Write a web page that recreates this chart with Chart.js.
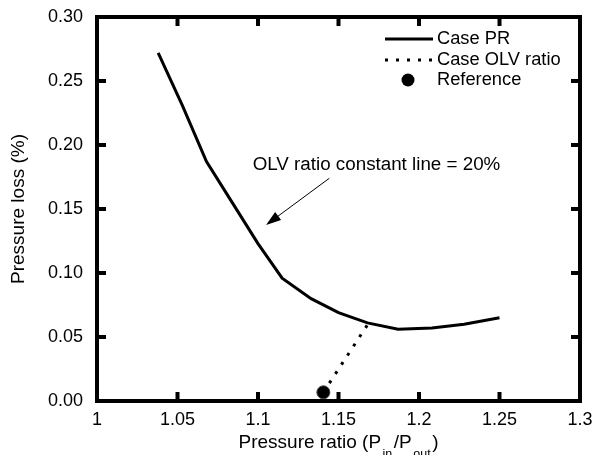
<!DOCTYPE html>
<html>
<head>
<meta charset="utf-8">
<script src="https://cdn.jsdelivr.net/npm/chart.js@4"></script>
<style>
  html, body { margin: 0; padding: 0; background: #fff; }
</style>
</head>
<body>
<canvas id="chart" width="594" height="455"></canvas>
<script>
const FONT = "'Liberation Sans', Arial, Helvetica, sans-serif";

// Case PR (solid line)
const prX = [1.038, 1.053, 1.068, 1.085, 1.1, 1.115, 1.133, 1.15, 1.168, 1.187, 1.208, 1.228, 1.25];
const prY = [0.272, 0.231, 0.187, 0.153, 0.123, 0.096, 0.080, 0.069, 0.061, 0.056, 0.057, 0.060, 0.065];
// Case OLV ratio (dotted line)
const olvX = [1.1406, 1.1685];
const olvY = [0.0068, 0.0605];
// Reference point
const refX = [1.1406];
const refY = [0.0068];

const xTicks = [1, 1.05, 1.1, 1.15, 1.2, 1.25, 1.3];
const yTicks = [0, 0.05, 0.1, 0.15, 0.2, 0.25, 0.3];

// annotation, in data units
const noteText = "OLV ratio constant line = 20%";
const noteAt = { x: 1.0967, y: 0.1844 };
const arrowFrom = { x: 1.1443, y: 0.174 };
const arrowTo = { x: 1.105, y: 0.1375 };

const pts = (xs, ys) => xs.map((x, i) => ({ x: x, y: ys[i] }));

const frame = {
  id: "frame",
  afterDatasetsDraw(chart) {
    const ctx = chart.ctx;
    const a = chart.chartArea;
    const xs = chart.scales.x, ys = chart.scales.y;
    ctx.save();
    ctx.strokeStyle = "#000";
    ctx.lineWidth = 4;
    ctx.strokeRect(a.left, a.top, a.right - a.left, a.bottom - a.top);
    // inward ticks on all four sides
    const len = 9;
    ctx.beginPath();
    for (const v of xTicks.slice(1, -1)) {
      const px = xs.getPixelForValue(v);
      ctx.moveTo(px, a.bottom); ctx.lineTo(px, a.bottom - len);
      ctx.moveTo(px, a.top); ctx.lineTo(px, a.top + len);
    }
    for (const v of yTicks.slice(1, -1)) {
      const py = ys.getPixelForValue(v);
      ctx.moveTo(a.left, py); ctx.lineTo(a.left + len, py);
      ctx.moveTo(a.right, py); ctx.lineTo(a.right - len, py);
    }
    ctx.stroke();

    // annotation + arrow
    ctx.fillStyle = "#000";
    ctx.font = "18.8px " + FONT;
    ctx.textBaseline = "middle";
    ctx.textAlign = "left";
    ctx.fillText(noteText, xs.getPixelForValue(noteAt.x), ys.getPixelForValue(noteAt.y));
    const x0 = xs.getPixelForValue(arrowFrom.x), y0 = ys.getPixelForValue(arrowFrom.y);
    const x1 = xs.getPixelForValue(arrowTo.x), y1 = ys.getPixelForValue(arrowTo.y);
    const ang = Math.atan2(y1 - y0, x1 - x0);
    const hl = 15, hw = 5;
    ctx.lineWidth = 1;
    ctx.beginPath();
    ctx.moveTo(x0, y0);
    ctx.lineTo(x1 - Math.cos(ang) * hl * 0.8, y1 - Math.sin(ang) * hl * 0.8);
    ctx.stroke();
    ctx.beginPath();
    ctx.moveTo(x1, y1);
    ctx.lineTo(x1 - Math.cos(ang) * hl - Math.sin(ang) * hw, y1 - Math.sin(ang) * hl + Math.cos(ang) * hw);
    ctx.lineTo(x1 - Math.cos(ang) * hl + Math.sin(ang) * hw, y1 - Math.sin(ang) * hl - Math.cos(ang) * hw);
    ctx.closePath();
    ctx.fill();

    // legend inside the plot, top right
    const ds = chart.data.datasets;
    const lx0 = a.right - 195, lx1 = a.right - 147, tx = a.right - 143;
    const rows = [a.top + 22, a.top + 43, a.top + 63];
    ctx.font = "18.3px " + FONT;
    ds.forEach((d, i) => {
      const y = rows[i];
      if (d.showLine) {
        ctx.lineWidth = 3;
        ctx.setLineDash(d.borderDash || []);
        ctx.beginPath();
        ctx.moveTo(lx0, y); ctx.lineTo(lx1, y);
        ctx.stroke();
        ctx.setLineDash([]);
      } else {
        ctx.beginPath();
        ctx.arc((lx0 + lx1) / 2 - 1, y, d.pointRadius, 0, Math.PI * 2);
        ctx.fill();
      }
      ctx.fillText(d.label, tx, y);
    });

    // x axis title with subscripts
    const cx = (a.left + a.right) / 2;
    const parts = [["Pressure ratio (P", 0], ["in", 1], ["/P", 0], ["out", 1], [")", 0]];
    const big = "19px " + FONT, small = "12.5px " + FONT;
    let w = 0;
    for (const [t, s] of parts) { ctx.font = s ? small : big; w += ctx.measureText(t).width + (s ? 3 : 0); }
    let x = cx - w / 2;
    ctx.textBaseline = "alphabetic";
    for (const [t, s] of parts) {
      ctx.font = s ? small : big;
      if (s) x += 1.5;
      ctx.fillText(t, x, s ? 458 : 448);
      x += ctx.measureText(t).width + (s ? 1.5 : 0);
    }
    ctx.restore();
  }
};

new Chart(document.getElementById("chart"), {
  type: "scatter",
  data: {
    datasets: [
      {
        label: "Case PR",
        data: pts(prX, prY),
        showLine: true,
        borderColor: "#000",
        borderWidth: 3,
        pointRadius: 0,
        tension: 0
      },
      {
        label: "Case OLV ratio",
        data: pts(olvX, olvY),
        showLine: true,
        borderColor: "#000",
        borderWidth: 3,
        borderDash: [3, 8],
        pointRadius: 0
      },
      {
        label: "Reference",
        data: pts(refX, refY),
        showLine: false,
        backgroundColor: "#000",
        borderColor: "#444",
        borderWidth: 1,
        pointRadius: 6.5
      }
    ]
  },
  options: {
    responsive: false,
    animation: false,
    layout: { padding: { top: 17, right: 14, left: 0, bottom: 0 } },
    font: { family: FONT },
    scales: {
      x: {
        type: "linear",
        min: 1,
        max: 1.3,
        afterBuildTicks: (s) => { s.ticks = xTicks.map((v) => ({ value: v })); },
        afterFit: (s) => { s.height = 54; s.paddingLeft = 0; s.paddingRight = 0; },
        grid: { display: false, drawTicks: false },
        border: { display: false },
        ticks: {
          color: "#000",
          padding: 8,
          font: { family: FONT, size: 18 },
          maxRotation: 0,
          callback: (v) => String(+v.toFixed(2))
        }
      },
      y: {
        min: 0,
        max: 0.3,
        afterBuildTicks: (s) => { s.ticks = yTicks.map((v) => ({ value: v })); },
        afterFit: (s) => { s.width = 97; s.paddingTop = 0; s.paddingBottom = 0; },
        grid: { display: false, drawTicks: false },
        border: { display: false },
        ticks: {
          color: "#000",
          padding: 14,
          font: { family: FONT, size: 18 },
          callback: (v) => v.toFixed(2)
        },
        title: {
          display: true,
          text: "Pressure loss (%)",
          color: "#000",
          font: { family: FONT, size: 19 },
          padding: { top: 7, bottom: 0 }
        }
      }
    },
    plugins: {
      legend: { display: false },
      tooltip: { enabled: false }
    }
  },
  plugins: [frame]
});
</script>
</body>
</html>
